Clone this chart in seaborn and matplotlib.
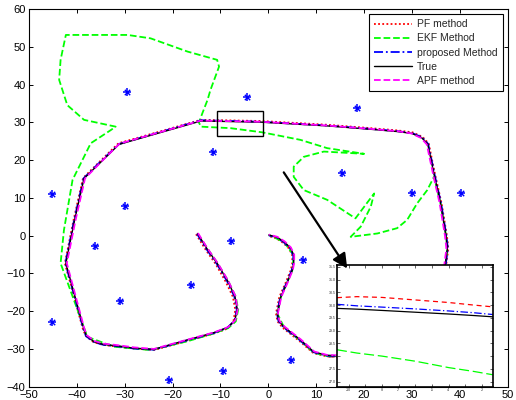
import matplotlib
matplotlib.use("Agg")
import matplotlib.pyplot as plt
from matplotlib.patches import Rectangle, FancyArrowPatch
import seaborn as sns
import pandas as pd

# ---------------- data ----------------
TRUE_X = [-14.8, -12.8, -10.7, -8.5, -7.0, -6.5, -7.0, -8.5, -11.4, -16.9, -23.9, -28.0, -31.5, -34.5,
          -36.4, -38.0, -38.5, -42.3, -40.5, -38.5, -35.0, -31.2, -14.1, -1.6, 12.3, 21.4, 27.0, 30.0,
          32.0, 33.3, 34.6, 36.0, 37.1, 37.4, 37.0, 36.0, 30.0, 20.0, 14.5, 12.3, 9.5, 6.7, 3.3, 2.2,
          1.9, 2.6, 3.8, 5.0, 5.3, 5.3, 4.6, 3.3, 1.8, 0.1]
TRUE_Y = [0.6, -3.5, -7.3, -12.0, -16.0, -19.5, -22.5, -24.3, -25.7, -27.6, -30.1, -29.8, -29.2, -28.8,
          -28.1, -26.5, -24.9, -7.3, 4.0, 15.2, 19.5, 24.2, 30.4, 30.1, 29.1, 28.2, 27.6, 27.1,
          26.0, 24.3, 16.4, 8.5, 0.0, -3.4, -7.3, -20.0, -30.0, -33.0, -31.8, -31.7, -30.8, -27.6, -24.2, -22.6,
          -20.6, -16.2, -12.8, -9.1, -7.2, -5.1, -3.2, -1.6, -0.4, 0.2]

PF_X = [-15.1, -13.1, -11.0, -8.9, -7.4, -6.9, -7.3, -8.7, -11.6, -17.0, -23.9, -28.0, -31.6, -34.6,
        -36.5, -38.1, -38.7, -42.5, -40.7, -38.7, -35.1, -31.3, -14.1, -1.6, 12.3, 21.4, 27.0, 30.1,
        32.2, 33.5, 34.8, 36.2, 37.3, 37.6, 37.2, 36.2, 30.1, 20.0, 14.5, 12.3, 9.4, 6.5, 3.0, 1.9,
        1.6, 2.3, 3.5, 4.7, 5.0, 5.0, 4.4, 3.1, 1.7, 0.1]
PF_Y = [0.4, -3.7, -7.5, -12.2, -16.2, -19.6, -22.8, -24.7, -26.0, -27.9, -30.3, -29.9, -29.4, -28.9,
        -28.2, -26.6, -24.9, -7.3, 4.1, 15.3, 19.8, 24.5, 30.7, 30.4, 29.4, 28.5, 27.9, 27.4,
        26.2, 24.4, 16.4, 8.5, 0.0, -3.4, -7.3, -20.0, -30.2, -33.3, -32.1, -32.0, -31.1, -27.9, -24.4, -22.7,
        -20.6, -16.2, -12.8, -9.1, -7.2, -5.3, -3.5, -1.9, -0.7, -0.1]

PROP_X = [-14.9, -12.9, -10.8, -8.6, -7.1, -6.6, -7.1, -8.6, -11.4, -16.9, -23.9, -28.0, -31.5, -34.5,
          -36.4, -38.1, -38.6, -42.4, -40.6, -38.6, -35.1, -31.2, -14.1, -1.6, 12.3, 21.4, 27.0, 30.0,
          32.1, 33.4, 34.7, 36.1, 37.2, 37.5, 37.1, 36.1, 30.0, 20.0, 14.5, 12.3, 9.5, 6.6, 3.2, 2.1,
          1.8, 2.5, 3.7, 4.9, 5.2, 5.2, 4.5, 3.2, 1.8, 0.1]
PROP_Y = [0.5, -3.6, -7.4, -12.1, -16.1, -19.6, -22.6, -24.4, -25.8, -27.7, -30.2, -29.9, -29.3, -28.9,
          -28.2, -26.6, -24.9, -7.3, 4.0, 15.2, 19.6, 24.3, 30.6, 30.2, 29.2, 28.3, 27.7, 27.2,
          26.1, 24.3, 16.4, 8.5, 0.0, -3.4, -7.3, -20.0, -30.1, -33.1, -31.9, -31.8, -30.9, -27.7, -24.3, -22.6,
          -20.6, -16.2, -12.8, -9.1, -7.2, -5.2, -3.3, -1.7, -0.5, 0.1]

APF_X = [-14.7, -12.7, -10.6, -8.4, -6.9, -6.4, -6.9, -8.4, -11.3, -16.8, -23.9, -28.0, -31.5, -34.4,
         -36.3, -37.9, -38.4, -42.1, -40.3, -38.3, -34.9, -31.1, -14.1, -1.6, 12.3, 21.4, 27.0, 29.9,
         31.9, 33.1, 34.4, 35.8, 36.9, 37.2, 36.8, 35.8, 29.9, 20.0, 14.5, 12.3, 9.6, 6.8, 3.4, 2.3,
         2.0, 2.7, 3.9, 5.1, 5.4, 5.4, 4.7, 3.4, 1.9, 0.1]
APF_Y = [0.7, -3.4, -7.2, -11.9, -15.9, -19.4, -22.4, -24.2, -25.6, -27.5, -30.0, -29.6, -29.0, -28.6,
         -27.9, -26.4, -24.8, -7.3, 4.0, 15.2, 19.6, 24.4, 30.5, 30.2, 29.2, 28.3, 27.7, 27.1,
         25.9, 24.2, 16.4, 8.5, 0.0, -3.4, -7.3, -20.0, -29.8, -32.8, -31.7, -31.6, -30.7, -27.5, -24.1, -22.5,
         -20.6, -16.2, -12.8, -9.1, -7.2, -5.0, -3.1, -1.5, -0.3, 0.3]

EKF_X = [-14.8, -12.6, -10.5, -8.3, -6.8, -6.3, -6.8, -8.4, -11.4, -17.0, -24.6, -32.3, -37.8, -40.6,
         -43.4, -42.7, -40.9, -37.1, -32.9, -31.9, -38.5, -42.0, -43.7, -43.4, -42.3, -29.4, -24.6, -16.9,
         -10.7, -10.3, -12.1, -12.7, -13.8, -14.5, -14.1, -7.9, -1.3, 6.7, 12.3, 20.0, 11.6, 7.4, 5.3,
         5.3, 7.4, 12.3, 18.2, 22.1, 21.4, 19.3, 17.2, 22.8, 26.9, 29.0, 31.1, 33.2, 34.6, 36.0,
         37.1, 37.4, 37.0, 36.0, 30.0, 20.0, 14.3, 12.3, 9.5, 6.7, 3.3, 1.9, 2.6, 5.0, 5.3, 3.3, 0.1]
EKF_Y = [0.6, -3.6, -7.5, -12.2, -16.2, -19.6, -22.7, -24.5, -25.9, -28.0, -30.3, -29.4, -26.8, -17.1,
         -7.3, 1.5, 14.8, 24.5, 28.0, 28.9, 30.7, 34.6, 41.3, 46.6, 53.2, 53.2, 52.3, 48.8,
         46.6, 44.8, 38.6, 36.0, 32.4, 30.0, 28.9, 28.5, 27.4, 25.4, 23.2, 21.7, 22.3, 20.9, 18.3,
         15.6, 12.1, 9.5, 4.6, 11.2, 7.7, 2.4, -0.3, 0.6, 2.0, 4.2, 8.6, 12.1, 15.6, 8.4,
         0.2, -3.5, -7.5, -20.0, -30.0, -33.0, -31.9, -31.9, -31.0, -27.8, -24.3, -20.7, -16.3, -9.2, -5.2, -1.7, 0.2]

LM_X = [-29.5, -4.5, 18.6, -11.6, 15.3, 30.1, 40.2, -45.1, -30.0, -36.3, -7.9, -16.2, 7.2, -31.0,
        -45.1, 4.8, -9.5, -20.8]
LM_Y = [38.2, 36.8, 33.8, 22.2, 16.5, 11.4, 11.2, 11.0, 7.9, -2.7, -1.4, -13.1, -6.4, -17.2,
        -22.8, -32.8, -35.9, -38.2]

# zoomed (inset) data
IN_X = [-10.7, -9.5, -8.0, -6.0, -4.0, -2.5, -1.36]
IN_PF = [30.29, 30.33, 30.30, 30.20, 30.10, 30.00, 29.93]
IN_PROP = [30.03, 29.97, 29.92, 29.85, 29.77, 29.70, 29.63]
IN_TRUE = [29.87, 29.84, 29.79, 29.72, 29.65, 29.59, 29.54]
IN_EKF = [28.25, 28.12, 28.00, 27.80, 27.55, 27.40, 27.27]

LABELS = ["PF method", "EKF Method", "proposed Method", "True", "APF method"]
X_TICKS = list(range(-50, 51, 10))
Y_TICKS = list(range(-40, 61, 10))
IN_XTICKS = list(range(-10, -1, 1))
# labels hidden behind the main axis labels 20, 30, 40 in the reference
IN_XTICKLABELS = ["-10", "", "-8", "-7", "", "-5", "-4", "", "-2"]
IN_YTICKS = [27, 27.5, 28, 28.5, 29, 29.5, 30, 30.5, 31, 31.5]

# ---------------- style ----------------
sns.set_style("ticks")
plt.rcParams["font.family"] = ["Liberation Sans", "DejaVu Sans"]

fig = plt.figure(figsize=(5.16, 4.0), dpi=100)
ax = fig.add_axes([0.0562, 0.0333, 0.9277, 0.9435])

LW = 1.3
series = [
    (PF_X, PF_Y, "#ff0000", (0, (1, 1.3)), LABELS[0]),
    (EKF_X, EKF_Y, "#00ff00", (0, (3.7, 1.6)), LABELS[1]),
    (PROP_X, PROP_Y, "#0000ff", (0, (5, 1.6, 1, 1.6)), LABELS[2]),
    (TRUE_X, TRUE_Y, "#000000", "-", LABELS[3]),
    (APF_X, APF_Y, "#ff00ff", (0, (3.7, 1.6)), LABELS[4]),
]
handles = []
for xs, ys, col, ls, lab in series:
    df = pd.DataFrame({"x": xs, "y": ys})
    sns.lineplot(data=df, x="x", y="y", sort=False, estimator=None, ax=ax,
                 color=col, linestyle=ls, linewidth=LW if lab != "True" else 1.0,
                 label=lab, legend=False)
    handles.append(ax.lines[-1])

lm = pd.DataFrame({"x": LM_X, "y": LM_Y})
sns.scatterplot(data=lm, x="x", y="y", ax=ax, marker="+", s=30, color="#0000ff",
                linewidth=1.1, zorder=6, legend=False)
sns.scatterplot(data=lm, x="x", y="y", ax=ax, marker="x", s=15, color="#0000ff",
                linewidth=1.0, zorder=6, legend=False)

ax.set_xlim(-50, 50)
ax.set_ylim(-40, 60)
ax.set_xticks(X_TICKS)
ax.set_yticks(Y_TICKS)
ax.set_xlabel("")
ax.set_ylabel("")
ax.tick_params(direction="in", length=3, width=0.7, top=True, right=True,
               labelsize=8, pad=2.5, colors="black")
for sp in ax.spines.values():
    sp.set_visible(True)
    sp.set_linewidth(0.8)
    sp.set_color("black")

ax.add_patch(Rectangle((-10.8, 26.5), 9.6, 6.55, fill=False, edgecolor="black",
                       linewidth=1.0, zorder=7))

leg = ax.legend(handles, LABELS, loc="upper right", fontsize=7.5, fancybox=False,
                framealpha=1, edgecolor="black", handlelength=3.6, labelspacing=0.4,
                borderpad=0.5, borderaxespad=0.45, handletextpad=0.5)
leg.get_frame().set_linewidth(0.8)

# ---------------- inset ----------------
axin = fig.add_axes([0.653, 0.0325, 0.302, 0.305])
inset_series = [
    (IN_PF, "#ff0000", (0, (4, 3))),
    (IN_EKF, "#00ff00", (0, (8, 3))),
    (IN_PROP, "#0000ff", (0, (6, 2, 1, 2))),
    (IN_TRUE, "#000000", "-"),
]
for ys, col, ls in inset_series:
    d = pd.DataFrame({"x": IN_X, "y": ys})
    sns.lineplot(data=d, x="x", y="y", sort=False, estimator=None, ax=axin,
                 color=col, linestyle=ls, linewidth=0.9, legend=False)
axin.set_xlim(-10.7, -1.36)
axin.set_ylim(26.79, 31.57)
axin.set_xticks(IN_XTICKS)
axin.set_xticklabels(IN_XTICKLABELS)
axin.set_yticks(IN_YTICKS)
axin.set_xlabel("")
axin.set_ylabel("")
axin.tick_params(direction="in", length=2, width=0.5, labelsize=2.5, pad=1,
                 top=True, right=True)
axin.set_facecolor("white")
for sp in axin.spines.values():
    sp.set_visible(True)
    sp.set_linewidth(1.2)
    sp.set_color("black")

arrow = FancyArrowPatch((2.9, 17.4), (16.8, -9.3), transform=ax.transData,
                        arrowstyle="-|>", mutation_scale=22, linewidth=1.6,
                        color="black", zorder=10)
fig.add_artist(arrow)

fig.savefig("out.png", dpi=100)
